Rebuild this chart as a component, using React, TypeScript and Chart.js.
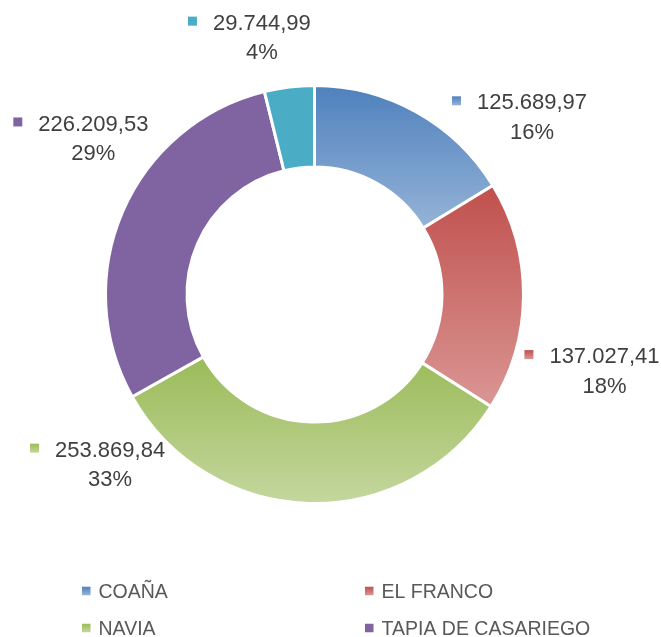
import React, { useEffect, useRef } from "react";
import { Chart, ArcElement, DoughnutController } from "chart.js";

Chart.register(ArcElement, DoughnutController);

// ---- data ----
const categories = ["COAÑA", "EL FRANCO", "NAVIA", "TAPIA DE CASARIEGO", "OTROS"];
const values = [125689.97, 137027.41, 253869.84, 226209.53, 29744.99];
const topColors = ["#4F81BD", "#C0504D", "#9BBB59", "#8064A2", "#4BACC6"];
const bottomColors = ["#95B3D7", "#DA9694", "#C4D79E", "#8064A2", "#4BACC6"];

// ---- styling / placement ----
const BORDER = 3;
const CUTOUT = 0.61;
const FONT = "'Liberation Sans', Arial, sans-serif";
// label block placement: angular shift from slice mid-angle (deg), distance as multiple of outer radius
const labelPlacement = [
  { shift: 19.6, dist: 1.302 },
  { shift: 14.6, dist: 1.375 },
  { shift: 50.6, dist: 1.314 },
  { shift: 10.6, dist: 1.349 },
  { shift: -7.2, dist: 1.276 },
];
const legendLayout = { cols: [82, 365], top: 591, rowGap: 37, square: 8.5, textGap: 8 };

const total = values.reduce((a, b) => a + b, 0);

function formatEs(v: number): string {
  const [int, dec] = v.toFixed(2).split(".");
  return int.replace(/\B(?=(\d{3})+(?!\d))/g, ".") + "," + dec;
}

function sliceBounds(chart: any, i: number): [number, number] {
  const a = chart.chartArea;
  const cy = (a.top + a.bottom) / 2;
  const R = Math.max((Math.min(a.right - a.left, a.bottom - a.top) - BORDER) / 2, 0);
  const r = R * CUTOUT;
  let before = 0;
  for (let k = 0; k < i; k++) before += values[k];
  const s = -Math.PI / 2 + (2 * Math.PI * before) / total;
  const e = s + (2 * Math.PI * values[i]) / total;
  const ys = [cy + R * Math.sin(s), cy + r * Math.sin(s), cy + R * Math.sin(e), cy + r * Math.sin(e)];
  for (const t of [-Math.PI / 2, Math.PI / 2, (3 * Math.PI) / 2]) {
    if (t > s && t < e) ys.push(cy + R * Math.sin(t));
  }
  return [Math.min(...ys), Math.max(...ys)];
}

function vGradient(ctx: CanvasRenderingContext2D, y0: number, y1: number, i: number) {
  const g = ctx.createLinearGradient(0, y0, 0, y1);
  g.addColorStop(0, topColors[i]);
  g.addColorStop(1, bottomColors[i]);
  return g;
}

const labelsPlugin = {
  id: "sliceLabels",
  afterDatasetsDraw(chart: any) {
    const ctx: CanvasRenderingContext2D = chart.ctx;
    const meta = chart.getDatasetMeta(0);
    ctx.save();
    ctx.font = `22px ${FONT}`;
    ctx.textBaseline = "middle";
    meta.data.forEach((arc: any, i: number) => {
      const { x, y, startAngle, endAngle, outerRadius } = arc.getProps(
        ["x", "y", "startAngle", "endAngle", "outerRadius"],
        true
      );
      const p = labelPlacement[i];
      const theta = (startAngle + endAngle) / 2 + (p.shift * Math.PI) / 180;
      const bx = x + Math.cos(theta) * outerRadius * p.dist;
      const by = y + Math.sin(theta) * outerRadius * p.dist;
      const valueText = formatEs(values[i]);
      const pctText = Math.round((values[i] / total) * 100) + "%";
      const tw = ctx.measureText(valueText).width;
      const sq = 9;
      const gap = 16;
      const left = bx - (sq + gap + tw) / 2;
      const y1 = by - 14.75;
      const y2 = by + 14.75;
      ctx.fillStyle = vGradient(ctx, y1 - sq / 2, y1 + sq / 2, i);
      ctx.fillRect(left, y1 - sq / 2, sq, sq);
      ctx.fillStyle = "#404040";
      ctx.textAlign = "left";
      ctx.fillText(valueText, left + sq + gap, y1 + 2.5);
      ctx.textAlign = "center";
      ctx.fillText(pctText, left + sq + gap + tw / 2, y2 + 2.5);
    });
    ctx.restore();
  },
};

const legendPlugin = {
  id: "gridLegend",
  afterDraw(chart: any) {
    const ctx: CanvasRenderingContext2D = chart.ctx;
    const L = legendLayout;
    ctx.save();
    ctx.font = `19.5px ${FONT}`;
    ctx.textBaseline = "middle";
    ctx.textAlign = "left";
    categories.forEach((name, i) => {
      const col = i % 2;
      const row = Math.floor(i / 2);
      const sx = L.cols[col];
      const cy = L.top + row * L.rowGap;
      ctx.fillStyle = vGradient(ctx, cy - L.square / 2, cy + L.square / 2, i);
      ctx.fillRect(sx, cy - L.square / 2, L.square, L.square);
      ctx.fillStyle = "#595959";
      ctx.fillText(name, sx + L.square + L.textGap, cy + 2);
    });
    ctx.restore();
  },
};

export default function App() {
  const canvasRef = useRef<HTMLCanvasElement | null>(null);

  useEffect(() => {
    if (!canvasRef.current) return;
    const chart = new Chart(canvasRef.current, {
      type: "doughnut",
      data: {
        labels: categories,
        datasets: [
          {
            data: values,
            backgroundColor: (c: any) => {
              const i = c.dataIndex;
              if (i === undefined) return topColors[0];
              const chart = c.chart;
              if (!chart.chartArea) return topColors[i];
              const [y0, y1] = sliceBounds(chart, i);
              return vGradient(chart.ctx, y0, y1, i);
            },
            borderColor: "#FFFFFF",
            borderWidth: BORDER,
            hoverBorderWidth: BORDER,
          },
        ],
      },
      options: {
        responsive: false,
        maintainAspectRatio: false,
        animation: false,
        cutout: `${CUTOUT * 100}%`,
        rotation: 0,
        layout: { padding: { left: 104, right: 136, top: 84, bottom: 132 } },
        plugins: {
          legend: { display: false },
          tooltip: { enabled: false },
        },
        events: [],
      } as any,
      plugins: [labelsPlugin, legendPlugin],
    });
    return () => chart.destroy();
  }, []);

  return (
    <div style={{ position: "fixed", left: 0, top: 0, width: 661, height: 637, background: "#fff" }}>
      <canvas ref={canvasRef} width={661} height={637} style={{ display: "block" }} />
    </div>
  );
}
